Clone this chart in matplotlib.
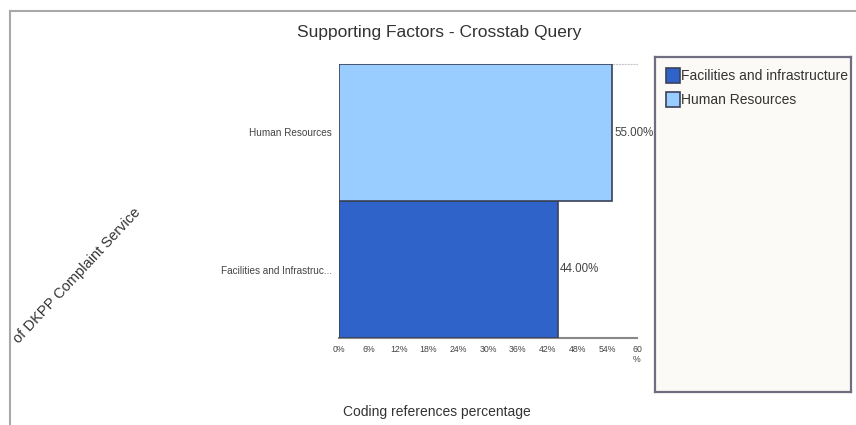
import matplotlib.pyplot as plt
from matplotlib.lines import Line2D

# Crosstab data: share of coding references per supporting factor
factors = ['Facilities and infrastructure', 'Human Resources']
tick_labels = ['Facilities and Infrastruc...', 'Human Resources']
percentages = [44.0, 55.0]
colors = ['#3063C9', '#99CCFF']
x_ticks = [0, 6, 12, 18, 24, 30, 36, 42, 48, 54, 60]
x_tick_labels = ['0%', '6%', '12%', '18%', '24%', '30%', '36%', '42%', '48%', '54%', '60\n%']

plt.rcParams['font.family'] = ['Liberation Sans', 'DejaVu Sans']

W, H = 856, 425
fig = plt.figure(figsize=(W / 100, H / 100), dpi=100)
fig.patch.set_facecolor('white')

# outer frame (top and left edges only)
fig.add_artist(Line2D([10 / W, 1], [1 - 11 / H, 1 - 11 / H], color='#A8A8A8', lw=1.5))
fig.add_artist(Line2D([10 / W, 10 / W], [1 - 11 / H, 0], color='#A8A8A8', lw=1.5))

ax = fig.add_axes([339 / W, 1 - 338 / H, (637 - 339) / W, (338 - 64) / H])
for i, (label, val, c) in enumerate(zip(factors, percentages, colors)):
    ax.barh(i, val, height=1.0, color=c, edgecolor='#3A4258', linewidth=1.2,
            label=label, zorder=3)
    ax.text(val + 0.4, i, f'{val:.2f}%', va='center', ha='left',
            fontsize=8.3, color='#444444')

ax.set_xlim(0, 60)
ax.set_ylim(-0.5, 1.5)
ax.set_xticks(x_ticks)
ax.set_xticklabels(x_tick_labels, fontsize=6.3, color='#444444', va='top')
ax.set_yticks([0, 1])
ax.set_yticklabels(tick_labels, fontsize=7.2, color='#444444')
ax.tick_params(length=0, pad=5)
for s in ['left', 'right']:
    ax.spines[s].set_visible(False)
ax.spines['bottom'].set_color('#888888')
ax.spines['bottom'].set_linewidth(1.5)
ax.spines['top'].set_color('#C8C8C8')
ax.spines['top'].set_linestyle(':')
ax.spines['top'].set_linewidth(0.8)

fig.text(439 / W, 1 - 33 / H, 'Supporting Factors - Crosstab Query',
         ha='center', va='center', fontsize=12.5, color='#333333')
fig.text(437 / W, 1 - 412 / H, 'Coding references percentage',
         ha='center', va='center', fontsize=10, color='#333333')

# diagonal axis title on the left
fig.text(138 / W, 1 - 210 / H, 'of DKPP Complaint Service',
         ha='right', va='center', rotation=47, rotation_mode='anchor',
         fontsize=10.5, color='#333333')

# legend panel
lax = fig.add_axes([655 / W, 1 - 392 / H, (851 - 655) / W, (392 - 57) / H])
lax.set_facecolor('#FBFAF6')
lax.set_xticks([])
lax.set_yticks([])
for s in lax.spines.values():
    s.set_color('#6E6E80')
    s.set_linewidth(1.6)
handles, labels = ax.get_legend_handles_labels()
lax.legend(handles, labels, loc='upper left', frameon=False, fontsize=10,
           handlelength=1.0, handleheight=1.3, handletextpad=0.1,
           labelspacing=0.6, borderaxespad=0.2, borderpad=0.6,
           labelcolor='#333333')

fig.savefig('out.png', dpi=100)
